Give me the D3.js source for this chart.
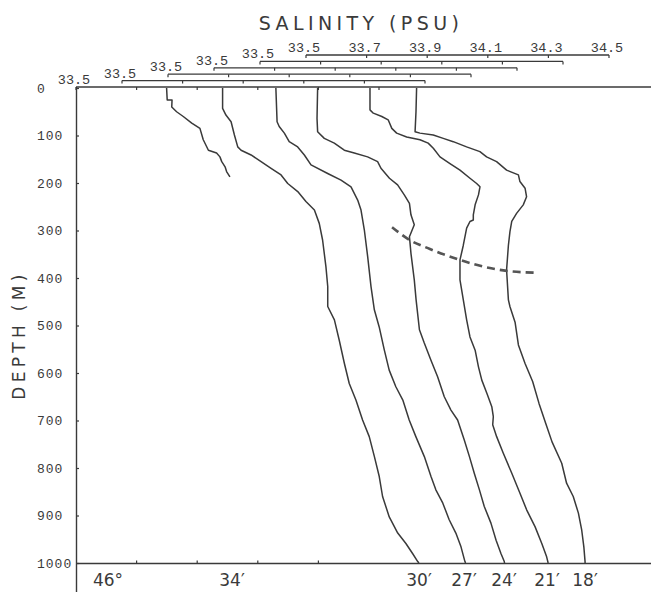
<!DOCTYPE html>
<html>
<head>
<meta charset="utf-8">
<script src="https://cdn.jsdelivr.net/npm/d3@7"></script>
<style>
  html, body { margin: 0; padding: 0; background: #fff; }
  svg { display: block; }
  text { fill: #3a3a3a; }
</style>
</head>
<body>
<svg id="chart" width="651" height="592"></svg>
<script>
// ---------------- DATA ----------------
const depthTicks = [0, 100, 200, 300, 400, 500, 600, 700, 800, 900, 1000];
const salinityTicks = [33.5, 33.7, 33.9, 34.1, 34.3, 34.5];
const bottomTicks = [33.7, 33.9, 34.1, 34.3];
const stationLabels = ["46\u00B0", "34\u2032", "30\u2032", "27\u2032", "24\u2032", "21\u2032", "18\u2032"];

// Profile 1 (scale 1)
const p1Depth = [0, 25, 25, 40, 50, 60, 74, 85, 109, 131, 137, 145, 155, 166, 176, 187];
const p1Sal   = [33.799, 33.801, 33.817, 33.816, 33.832, 33.854, 33.882, 33.909, 33.920, 33.937, 33.964, 33.975, 33.981, 33.992, 33.997, 34.008];

// Profile 2 (scale 2)
const p2Depth = [0, 43, 57, 71, 99, 124, 131, 141, 155, 169, 183, 201, 218, 239, 257, 285, 320, 376, 418, 460, 488, 531, 580, 622, 657, 699, 734, 776, 818, 860, 903, 937, 959, 980, 997, 1000];
const p2Sal   = [33.832, 33.832, 33.843, 33.860, 33.871, 33.882, 33.893, 33.926, 33.959, 33.992, 34.025, 34.047, 34.080, 34.107, 34.135, 34.151, 34.162, 34.173, 34.179, 34.179, 34.201, 34.217, 34.234, 34.250, 34.272, 34.294, 34.316, 34.333, 34.349, 34.360, 34.382, 34.410, 34.437, 34.459, 34.476, 34.480];

// Profile 3 (scale 3)
const p3Depth = [0, 71, 81, 95, 113, 124, 141, 162, 180, 194, 208, 236, 257, 299, 355, 418, 467, 503, 552, 594, 629, 657, 699, 734, 776, 818, 846, 874, 909, 937, 966, 997, 1000];
const p3Sal   = [33.856, 33.860, 33.867, 33.884, 33.900, 33.928, 33.950, 33.972, 34.027, 34.071, 34.104, 34.126, 34.137, 34.148, 34.159, 34.170, 34.181, 34.197, 34.214, 34.230, 34.252, 34.275, 34.296, 34.318, 34.346, 34.368, 34.384, 34.407, 34.428, 34.450, 34.467, 34.480, 34.482];

// Profile 4 (scale 4)
const p4Depth = [0, 64, 92, 106, 116, 131, 137, 145, 155, 169, 190, 204, 225, 243, 267, 288, 313, 348, 404, 446, 509, 537, 573, 608, 650, 678, 699, 741, 776, 811, 846, 881, 916, 952, 980, 997, 1000];
const p4Sal   = [33.842, 33.840, 33.842, 33.864, 33.897, 33.930, 33.963, 34.007, 34.040, 34.051, 34.079, 34.106, 34.128, 34.145, 34.150, 34.161, 34.145, 34.150, 34.161, 34.167, 34.178, 34.194, 34.216, 34.238, 34.260, 34.282, 34.304, 34.326, 34.343, 34.359, 34.376, 34.392, 34.414, 34.431, 34.447, 34.458, 34.459];

// Profile 5 (scale 5)
const p5Depth = [0, 46, 53, 60, 67, 85, 95, 103, 109, 116, 127, 145, 159, 173, 190, 201, 208, 225, 246, 267, 278, 281, 295, 331, 362, 404, 446, 488, 524, 552, 587, 615, 643, 671, 692, 709, 734, 769, 811, 853, 888, 924, 959, 987, 1000];
const p5Sal   = [33.863, 33.863, 33.874, 33.902, 33.923, 33.935, 33.951, 33.984, 34.028, 34.055, 34.072, 34.094, 34.127, 34.160, 34.193, 34.215, 34.226, 34.221, 34.210, 34.204, 34.204, 34.193, 34.182, 34.171, 34.160, 34.160, 34.171, 34.182, 34.193, 34.210, 34.221, 34.232, 34.249, 34.265, 34.270, 34.268, 34.281, 34.303, 34.331, 34.358, 34.380, 34.408, 34.430, 34.446, 34.451];

// Profile 6 (scale 6)
const p6Depth = [0, 50, 92, 95, 99, 106, 113, 124, 134, 145, 155, 173, 183, 197, 211, 229, 246, 264, 281, 303, 331, 383, 446, 460, 493, 541, 580, 618, 664, 706, 745, 790, 832, 860, 895, 931, 966, 997, 1000];
const p6Sal   = [33.865, 33.863, 33.860, 33.876, 33.920, 33.953, 33.986, 34.030, 34.074, 34.096, 34.129, 34.162, 34.201, 34.206, 34.223, 34.228, 34.217, 34.195, 34.179, 34.173, 34.168, 34.162, 34.168, 34.173, 34.190, 34.201, 34.223, 34.248, 34.269, 34.291, 34.312, 34.344, 34.360, 34.382, 34.399, 34.410, 34.417, 34.421, 34.421];

// Dashed line (read on scale 6)
const dashDepth = [293, 318, 339, 362, 379, 385, 389];
const dashSal   = [33.784, 33.837, 33.909, 34.008, 34.107, 34.163, 34.262];

// ---------------- LAYOUT ----------------
const plotLeft = 76, plotRight = 651, plotTop = 88, plotBottom = 563;
const barStep = 46, barWidth = 303, barYStep = 6.4;
const stationX = [108, 232, 419, 464, 504, 547, 585];
const ink = "#3a3a3a";
const monoFont = "'Liberation Mono', 'DejaVu Sans Mono', monospace";
const sansFont = "'DejaVu Sans', 'Liberation Sans', sans-serif";

const svg = d3.select("#chart");

const y = d3.scaleLinear().domain([0, 1000]).range([plotTop, plotBottom]);
const xScales = d3.range(6).map(i =>
  d3.scaleLinear().domain([33.5, 34.5]).range([plotLeft + i * barStep, plotLeft + i * barStep + barWidth]));
const barY = i => plotTop - 1 - i * barYStep;

// Left depth axis
const yAxis = d3.axisRight(y).tickValues(depthTicks).tickSize(3).tickFormat("");
const gy = svg.append("g").attr("transform", `translate(${plotLeft},0)`).call(yAxis);
gy.select(".domain").remove();
gy.selectAll(".tick line").attr("stroke", ink).attr("stroke-width", 1.2);
svg.append("line").attr("x1", plotLeft + 0.5).attr("x2", plotLeft + 0.5)
  .attr("y1", plotTop - 1).attr("y2", 592).attr("stroke", ink).attr("stroke-width", 1.4);

svg.append("g").selectAll("text").data(depthTicks).join("text")
  .attr("x", 37).attr("y", d => y(d) + 4.5)
  .attr("font-family", monoFont).attr("font-size", 13).attr("letter-spacing", 1)
  .text(d => d);

// Bottom line with scale-1 ticks
svg.append("line").attr("x1", plotLeft).attr("x2", plotRight)
  .attr("y1", plotBottom + 0.5).attr("y2", plotBottom + 0.5).attr("stroke", ink).attr("stroke-width", 1.4);
svg.append("g").selectAll("line").data(bottomTicks).join("line")
  .attr("x1", d => xScales[0](d)).attr("x2", d => xScales[0](d))
  .attr("y1", plotBottom).attr("y2", plotBottom - 2.5)
  .attr("stroke", ink).attr("stroke-width", 1.2);

svg.append("g").selectAll("text").data(stationLabels).join("text")
  .attr("x", (d, i) => stationX[i]).attr("y", 586).attr("text-anchor", "middle")
  .attr("font-family", sansFont).attr("font-size", 17)
  .text(d => d);

// Salinity scale bars
xScales.forEach((sx, i) => {
  const by = barY(i);
  const g = svg.append("g");
  g.append("line").attr("x1", sx(33.5)).attr("x2", i === 0 ? plotRight : sx(34.5))
    .attr("y1", by).attr("y2", by).attr("stroke", ink).attr("stroke-width", 1.3);
  g.selectAll("line.tk").data(salinityTicks).join("line").attr("class", "tk")
    .attr("x1", d => sx(d)).attr("x2", d => sx(d)).attr("y1", by).attr("y2", by + 3)
    .attr("stroke", ink).attr("stroke-width", 1.2);
  const labels = i === 5 ? salinityTicks : [salinityTicks[0]];
  g.selectAll("text").data(labels).join("text")
    .attr("x", d => sx(d) - 2).attr("y", by - 3).attr("text-anchor", "middle")
    .attr("font-family", monoFont).attr("font-size", 13.5)
    .text(d => d.toFixed(1));
});

// Profiles
const profiles = [
  [p1Depth, p1Sal], [p2Depth, p2Sal], [p3Depth, p3Sal],
  [p4Depth, p4Sal], [p5Depth, p5Sal], [p6Depth, p6Sal]
];
profiles.forEach(([dep, sal], i) => {
  const pts = dep.map((d, k) => [sal[k], d]);
  const line = d3.line().x(p => xScales[i](p[0])).y(p => y(p[1]));
  svg.append("path").datum(pts).attr("d", line)
    .attr("fill", "none").attr("stroke", ink).attr("stroke-width", 1.5)
    .attr("stroke-linejoin", "round");
});

// Dashed line
const dashPts = dashDepth.map((d, k) => [dashSal[k], d]);
svg.append("path").datum(dashPts)
  .attr("d", d3.line().curve(d3.curveMonotoneX).x(p => xScales[5](p[0])).y(p => y(p[1])))
  .attr("fill", "none").attr("stroke", "#555").attr("stroke-width", 2.6)
  .attr("stroke-dasharray", "8,5");

// Axis titles
svg.append("text").attr("x", 361).attr("y", 30).attr("text-anchor", "middle")
  .attr("font-family", sansFont).attr("font-size", 19).attr("letter-spacing", 4.4)
  .text("SALINITY (PSU)");
svg.append("text").attr("transform", "translate(25,335) rotate(-90)").attr("text-anchor", "middle")
  .attr("font-family", sansFont).attr("font-size", 17).attr("letter-spacing", 4.3)
  .text("DEPTH (M)");
</script>
</body>
</html>
